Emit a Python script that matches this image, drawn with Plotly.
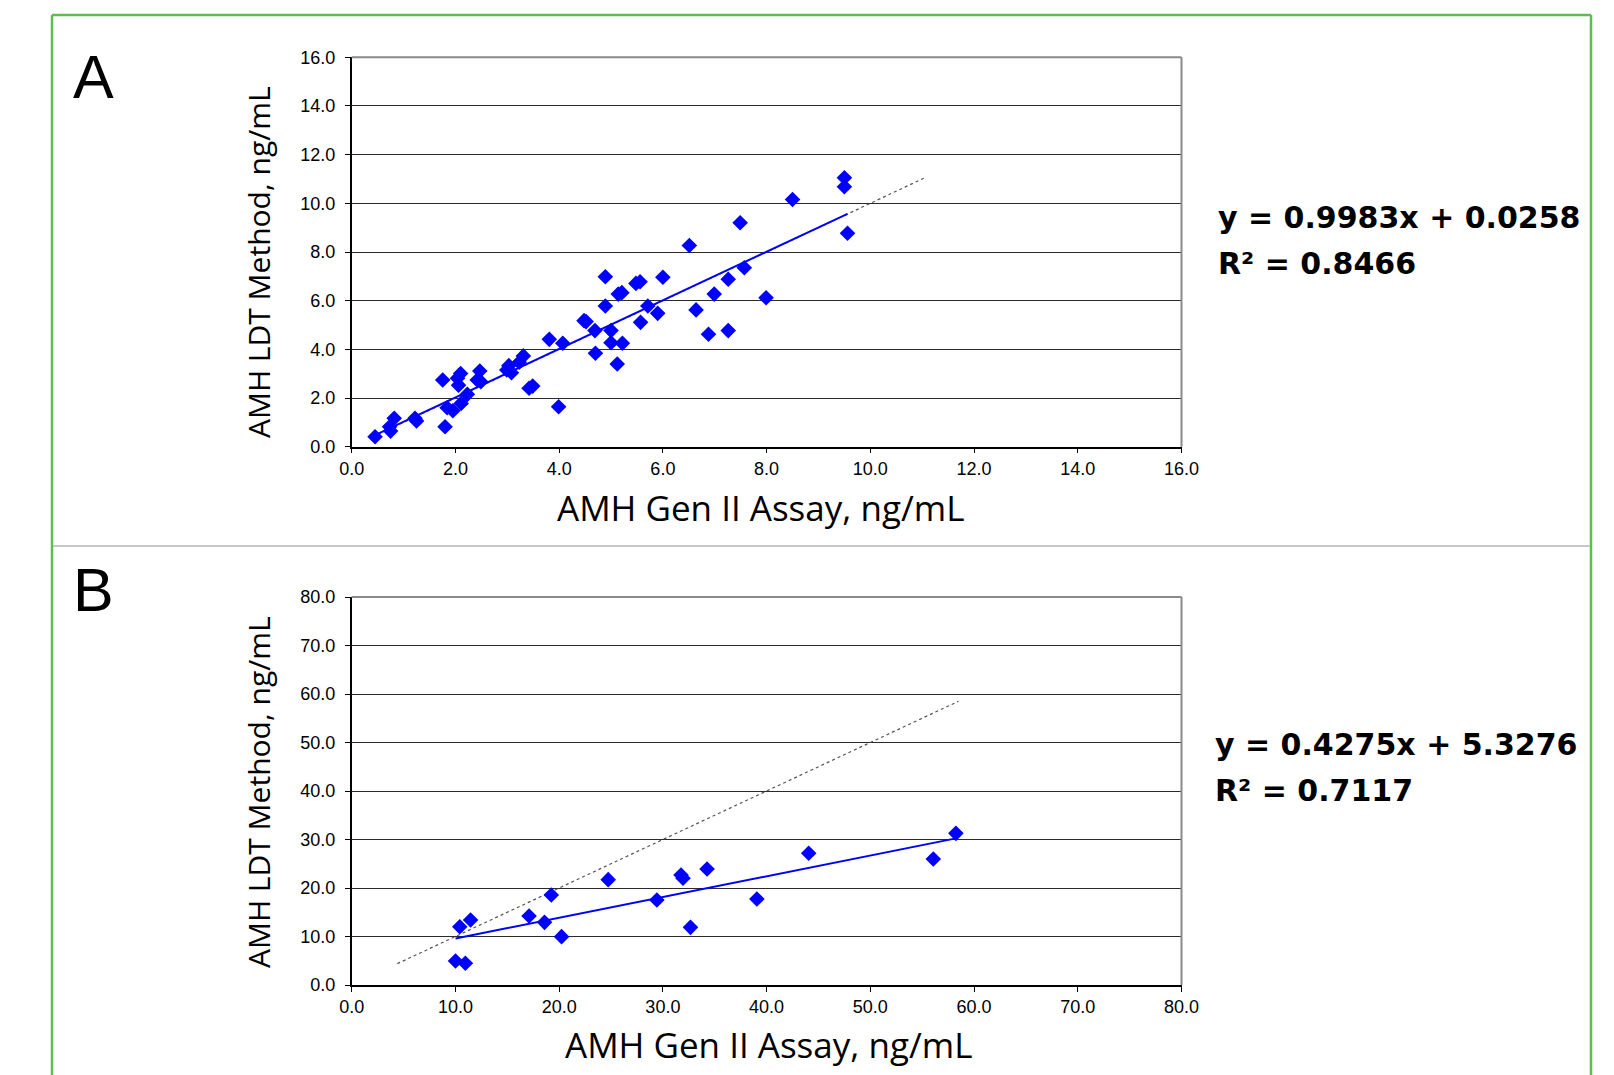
import plotly.graph_objects as go

W, H = 1614, 1075
OFF = 8  # page body margin of the rendered html

# ---------------- data ----------------
a_x = [0.45, 0.73, 0.75, 0.82, 1.22, 1.25, 1.80, 1.755, 1.84, 1.95, 2.04, 2.06, 2.10, 2.11,
       2.23, 2.47, 2.42, 2.49, 2.99, 3.03, 3.08, 3.23, 3.31, 3.42, 3.49, 3.81, 3.99, 4.07,
       4.48, 4.52, 4.69, 4.70, 4.89, 4.89, 5.00, 5.00, 5.12, 5.14, 5.21, 5.22, 5.48, 5.56,
       5.57, 5.71, 5.90, 6.00, 6.51, 6.64, 6.88, 6.99, 7.26, 7.26, 7.49, 7.57, 7.99, 8.50,
       9.50, 9.50, 9.56]
a_y = [0.41, 0.82, 0.64, 1.17, 1.17, 1.06, 0.82, 2.74, 1.60, 1.48, 2.81, 2.53, 3.01, 1.78,
       2.15, 3.11, 2.74, 2.67, 3.15, 3.33, 3.04, 3.47, 3.73, 2.40, 2.49, 4.41, 1.64, 4.25,
       5.18, 5.14, 4.77, 3.84, 6.98, 5.78, 4.77, 4.27, 3.40, 6.27, 6.33, 4.25, 6.71, 6.78,
       5.11, 5.78, 5.48, 6.96, 8.27, 5.62, 4.62, 6.27, 6.88, 4.77, 9.20, 7.35, 6.12, 10.16,
       11.05, 10.68, 8.77]
a_slope, a_intercept, a_r2 = 0.9983, 0.0258, 0.8466
a_identity = [0.4, 11.04]

b_x = [10.01, 10.96, 10.42, 11.46, 17.1, 18.59, 19.24, 20.23, 24.73, 29.42, 31.75, 31.94,
       32.66, 34.26, 39.06, 44.06, 56.07, 58.25]
b_y = [4.95, 4.47, 12.02, 13.40, 14.23, 12.92, 18.56, 9.97, 21.72, 17.53, 22.68, 22.0,
       11.89, 23.92, 17.73, 27.15, 25.98, 31.27]
b_slope, b_intercept, b_r2 = 0.4275, 5.3276, 0.7117
b_identity = [4.4, 58.5]

a_ticks = [0, 2, 4, 6, 8, 10, 12, 14, 16]
b_ticks = [0, 10, 20, 30, 40, 50, 60, 70, 80]

x_title = "AMH Gen II Assay, ng/mL"
y_title = "AMH LDT Method, ng/mL"


def px(x):
    return (x - OFF) / W


def py(y):
    return 1 - (y - OFF) / H


BLUE = "#0000FF"
fig = go.Figure()


def add_panel(xs, ys, slope, intercept, ident, xa, ya):
    fig.add_trace(go.Scatter(x=ident, y=ident, mode="lines", xaxis=xa, yaxis=ya,
                             line=dict(color="#555555", width=1.2, dash="dot"),
                             showlegend=False, hoverinfo="skip"))
    x0, x1 = min(xs), max(xs)
    fig.add_trace(go.Scatter(x=[x0, x1], y=[slope * x0 + intercept, slope * x1 + intercept],
                             mode="lines", xaxis=xa, yaxis=ya,
                             line=dict(color=BLUE, width=2), showlegend=False))
    fig.add_trace(go.Scatter(x=xs, y=ys, mode="markers", xaxis=xa, yaxis=ya,
                             marker=dict(symbol="diamond", size=12, color=BLUE,
                                         line=dict(width=0)),
                             showlegend=False))


add_panel(a_x, a_y, a_slope, a_intercept, a_identity, "x", "y")
add_panel(b_x, b_y, b_slope, b_intercept, b_identity, "x2", "y2")

L, R = 351.7, 1181.5
A_top, A_bot = 57.3, 446.7
B_top, B_bot = 597.0, 985.0

tick_font = dict(family="Liberation Sans, Arial", size=18, color="#000000")
common_x = dict(showgrid=False, zeroline=False, showline=True, linecolor="#000000",
                linewidth=1.5, ticks="outside", ticklen=5, tickcolor="#000000",
                tickfont=tick_font, tickformat=".1f", fixedrange=True, automargin=False)
common_y = dict(showgrid=True, gridcolor="#2a2a2a", gridwidth=1.4, zeroline=False,
                showline=True, linecolor="#000000", linewidth=1.5, ticks="outside",
                ticklen=5, tickcolor="#000000", tickfont=tick_font, tickformat=".1f",
                ticklabelstandoff=6, fixedrange=True, automargin=False)

fig.update_layout(
    template="none",
    width=W, height=H, margin=dict(l=0, r=0, t=0, b=0, pad=0), autosize=False,
    paper_bgcolor="white", plot_bgcolor="white", showlegend=False,
    xaxis=dict(domain=[px(L), px(R)], range=[0, 16], tickvals=a_ticks, anchor="y", **common_x),
    yaxis=dict(domain=[py(A_bot), py(A_top)], range=[0, 16], tickvals=a_ticks, anchor="x", **common_y),
    xaxis2=dict(domain=[px(L), px(R)], range=[0, 80], tickvals=b_ticks, anchor="y2", **common_x),
    yaxis2=dict(domain=[py(B_bot), py(B_top)], range=[0, 80], tickvals=b_ticks, anchor="x2", **common_y),
)

shapes = []
GREEN = "#5cbf4d"
# outer green frame
shapes.append(dict(type="line", xref="paper", yref="paper", x0=px(52), x1=px(1591), y0=py(15), y1=py(15),
                   line=dict(color=GREEN, width=2.5)))
shapes.append(dict(type="line", xref="paper", yref="paper", x0=px(52), x1=px(52), y0=py(15), y1=py(1090),
                   line=dict(color=GREEN, width=2.5)))
shapes.append(dict(type="line", xref="paper", yref="paper", x0=px(1591), x1=px(1591), y0=py(15), y1=py(1090),
                   line=dict(color=GREEN, width=2.5)))
# divider
shapes.append(dict(type="line", xref="paper", yref="paper", x0=px(53), x1=px(1590), y0=py(546), y1=py(546),
                   line=dict(color="#c8c8c8", width=2)))
# plot frames (top and right gray)
for top, bot in [(A_top, A_bot), (B_top, B_bot)]:
    shapes.append(dict(type="line", xref="paper", yref="paper", x0=px(L), x1=px(R), y0=py(top), y1=py(top),
                       line=dict(color="#8a8a8a", width=2)))
    shapes.append(dict(type="line", xref="paper", yref="paper", x0=px(R), x1=px(R), y0=py(top), y1=py(bot),
                       line=dict(color="#8a8a8a", width=2)))
fig.update_layout(shapes=shapes)

ann = []
x_title_font = dict(family="Open Sans", size=35, color="#000000")
y_title_font = dict(family="Open Sans", size=30, color="#000000")
label_font = dict(family="Liberation Sans, Arial", size=61, color="#000000")
eq_font = dict(family="DejaVu Sans", size=30, color="#000000", weight="bold")


def text(x, y, s, font, xanchor="center", angle=0):
    ann.append(dict(xref="paper", yref="paper", x=px(x), y=py(y), text=s, showarrow=False,
                    xanchor=xanchor, yanchor="middle", font=font, textangle=angle))


text(71, 77, "A", label_font, "left")
text(71, 590, "B", label_font, "left")
text(760, 508, x_title, x_title_font)
text(768, 1044, x_title, x_title_font)
text(259, 262, y_title, y_title_font, angle=-90)
text(259, 792, y_title, y_title_font, angle=-90)
text(1216, 217, f"y = {a_slope:.4f}x + {a_intercept:.4f}", eq_font, "left")
text(1216, 263, f"R² = {a_r2:.4f}", eq_font, "left")
text(1213, 744, f"y = {b_slope:.4f}x + {b_intercept:.4f}", eq_font, "left")
text(1213, 790, f"R² = {b_r2:.4f}", eq_font, "left")
fig.update_layout(annotations=ann)

fig.write_html("out.html")
